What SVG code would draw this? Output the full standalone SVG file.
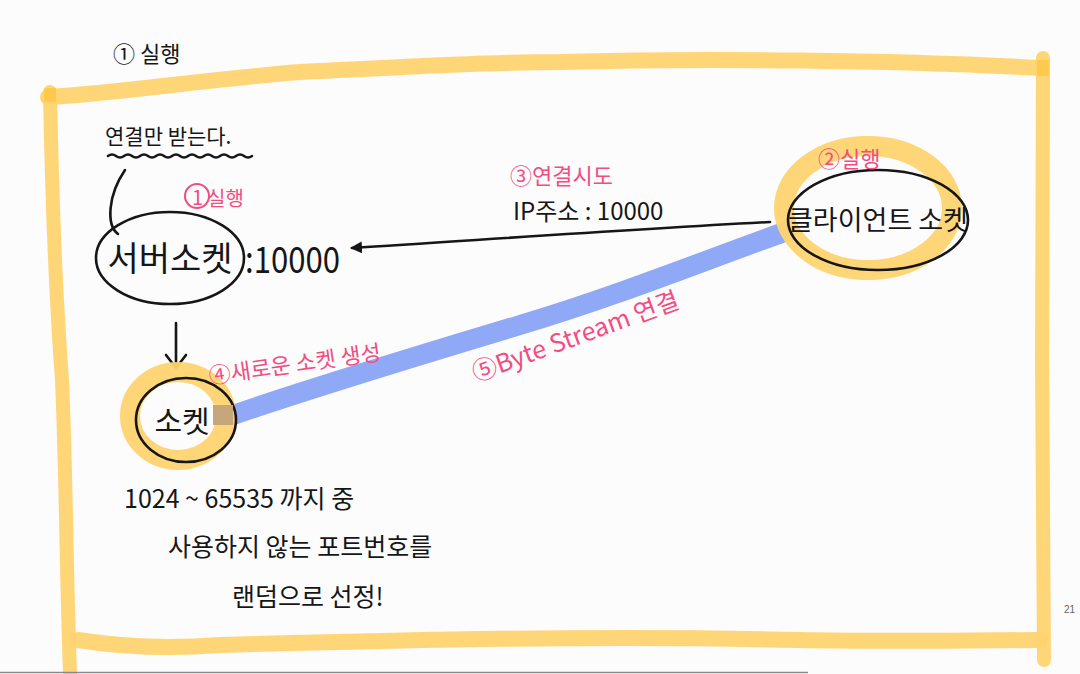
<svg xmlns="http://www.w3.org/2000/svg" width="1080" height="674" viewBox="0 0 1080 674">
<defs>
<style>
.hl{fill:none;stroke:#FFD470;stroke-linecap:round;stroke-linejoin:round;opacity:0.95}
.ink{fill:none;stroke:#161616;stroke-width:2.6;stroke-linecap:round;stroke-linejoin:round}
.t{font-family:"Noto Sans CJK KR","Noto Sans",sans-serif;fill:#161616}
.p{font-family:"Noto Sans CJK KR","Noto Sans",sans-serif;fill:#F24C82}
.pc{fill:none;stroke:#F24C82;stroke-width:2}
</style>
<marker id="ah" viewBox="0 0 12 12" refX="10" refY="6" markerWidth="12" markerHeight="12" markerUnits="userSpaceOnUse" orient="auto">
<path d="M0,0 L12,6 L0,12 Z" fill="#161616"/>
</marker>
</defs>
<rect width="1080" height="674" fill="#FCFCFC"/>

<g id="frame">
<path class="hl" stroke-width="16" d="M48,97 C120,93 200,80 300,72 C420,66 500,62 560,62 C700,58 900,60 1040,68"/>
<path class="hl" stroke-width="14" d="M1043,58 L1042,360 L1044,660"/>
<path class="hl" stroke-width="14" d="M50,92 C52,200 56,300 62,380 C66,470 66,560 70,674"/>
<path class="hl" stroke-width="16" d="M78,640 C110,645 160,650 220,645 C400,640 600,635 800,640 C900,642 1000,640 1040,640"/>
<rect x="44" y="88" width="12" height="14" fill="#FFC53D" opacity="0.7"/>
<rect x="1037" y="60" width="12" height="16" fill="#FFC53D" opacity="0.7"/>
</g>

<line x1="0" y1="672.5" x2="808" y2="672.5" stroke="#8a8a8a" stroke-width="1.5"/>
<text x="1064" y="613" font-family="Liberation Sans, sans-serif" font-size="10" fill="#666">21</text>

<text class="t" x="113" y="62" font-size="22">① 실행</text>

<g id="connectors">
<path d="M230,416 C320,385 420,355 520,325 C620,295 700,262 790,230" fill="none" stroke="#8FA9F7" stroke-width="20" stroke-linecap="butt"/>
<path class="ink" d="M770,222 C620,230 480,240 352,248" marker-end="url(#ah)"/>
<path class="ink" d="M176,323 L176,366 M166,355 L176,368 L186,355"/>
<path class="ink" d="M125,170 C108,195 106,225 118,234"/>
</g>

<g id="note-connect">
<text class="t" x="105" y="144" font-size="21">연결만 받는다.</text>
<path class="ink" stroke-width="2" d="M108,156 q4,-3 8,0 t8,0 t8,0 t8,0 t8,0 t8,0 t8,0 t8,0 t8,0 t8,0 t8,0 t8,0 t8,0 t8,0 t8,0 t8,0 t8,0 t8,0"/>
</g>

<g id="server-socket">
<ellipse class="ink" cx="170" cy="258" rx="74" ry="46"/>
<text class="t" x="170" y="271" font-size="34" text-anchor="middle">서버소켓</text>
<text class="t" x="245" y="273" font-size="36" textLength="95" lengthAdjust="spacingAndGlyphs">:10000</text>
<circle class="pc" cx="197" cy="196" r="12"/>
<text class="p" x="192" y="205" font-size="20">1</text>
<text class="p" x="207" y="206" font-size="20">실행</text>
</g>

<g id="connect-label">
<text class="p" x="510" y="184" font-size="22">③연결시도</text>
<text class="t" x="513" y="220" font-size="24">IP주소 : 10000</text>
</g>

<g id="client-socket">
<ellipse class="hl" cx="868" cy="208" rx="84" ry="62" stroke-width="20"/>
<ellipse class="ink" cx="878" cy="220" rx="90" ry="50"/>
<text class="t" x="878" y="230" font-size="27" text-anchor="middle">클라이언트 소켓</text>
<text class="p" x="818" y="167" font-size="22">②실행</text>
</g>

<g id="socket">
<ellipse class="hl" cx="178" cy="416" rx="48" ry="44" stroke-width="20"/>
<ellipse class="ink" cx="186" cy="420" rx="50" ry="42"/>
<text class="t" x="182" y="432" font-size="30" text-anchor="middle">소켓</text>
<rect x="213" y="405" width="20" height="20" fill="#C6A77A"/>
</g>

<g id="new-socket-label">
<text class="p" x="210" y="384" font-size="22" transform="rotate(-8 210 384)">④새로운 소켓 생성</text>
</g>

<g id="byte-stream-label">
<text class="p" x="476" y="382" font-size="25" transform="rotate(-20 476 382)">⑤Byte Stream 연결</text>
</g>

<g id="port-note">
<text class="t" x="124" y="508" font-size="25">1024 ~ 65535 까지 중</text>
<text class="t" x="168" y="556" font-size="25">사용하지 않는 포트번호를</text>
<text class="t" x="232" y="606" font-size="25">랜덤으로 선정!</text>
</g>
</svg>
